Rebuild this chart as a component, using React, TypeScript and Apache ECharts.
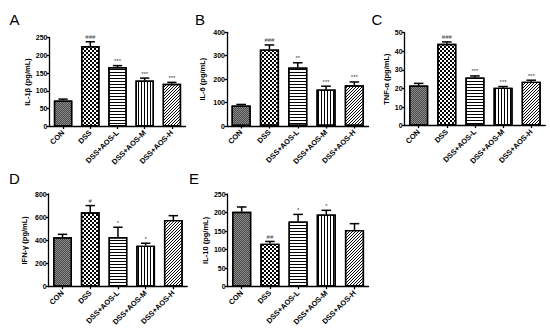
import React, { useEffect, useRef } from "react";
import * as echarts from "echarts";

const categories = ["CON", "DSS", "DSS+AOS-L", "DSS+AOS-M", "DSS+AOS-H"];

const il1bMean = [73, 226, 167, 129, 120];
const il1bErr = [4, 12, 4, 7, 4];
const il1bSig = ["", "###", "***", "***", "***"];

const il6Mean = [88, 327, 250, 156, 174];
const il6Err = [4, 19, 20, 14, 14];
const il6Sig = ["", "###", "**", "***", "***"];

const tnfMean = [21.5, 44, 25.8, 20.4, 23.6];
const tnfErr = [1.2, 1.0, 0.9, 0.6, 0.8];
const tnfSig = ["", "###", "***", "***", "***"];

const ifnMean = [426, 642, 429, 354, 576];
const ifnErr = [26, 58, 84, 21, 37];
const ifnSig = ["", "#", "*", "*", ""];

const il10Mean = [202, 116, 176, 195, 153];
const il10Err = [13, 6, 19, 11, 17];
const il10Sig = ["", "##", "*", "*", ""];

const panelLetters = ["A", "B", "C", "D", "E"];
const yTitles = ["IL-1β (pg/mL)", "IL-6 (pg/mL)", "TNF-α (pg/mL)", "IFN-γ (pg/mL)", "IL-10 (pg/mL)"];
const yMax = [250, 400, 50, 800, 250];
const yInterval = [50, 100, 10, 200, 50];

const means = [il1bMean, il6Mean, tnfMean, ifnMean, il10Mean];
const errs = [il1bErr, il6Err, tnfErr, ifnErr, il10Err];
const sigs = [il1bSig, il6Sig, tnfSig, ifnSig, il10Sig];

const layout = [
  { left: 49.5, top: 37.5, width: 136, height: 89, nameGap: 16.5, lx: 14.5, ly: 19.5 },
  { left: 227, top: 32.3, width: 141.5, height: 93.7, nameGap: 20.5, lx: 200, ly: 19.5 },
  { left: 404.6, top: 32.6, width: 140.7, height: 93, nameGap: 14, lx: 377, ly: 19.5 },
  { left: 48.7, top: 194, width: 138.5, height: 92.7, nameGap: 20, lx: 14.5, ly: 178.3 },
  { left: 227.6, top: 194, width: 141, height: 92.7, nameGap: 17.8, lx: 194, ly: 178.3 },
];

const FONT = '"Liberation Sans", Arial, sans-serif';

const baseDecal = { symbol: "rect", symbolSize: 1, symbolKeepAspect: false };
const barStyles = [
  { color: "#8a8a8a", decal: { ...baseDecal, color: "#4a4a4a", dashArrayX: [[1, 1], [0, 1, 1, 0]], dashArrayY: [1, 0] } },
  { color: "#ffffff", decal: { ...baseDecal, color: "#000000", dashArrayX: [[2, 2], [0, 2, 2, 0]], dashArrayY: [2, 0] } },
  { color: "#ffffff", decal: { ...baseDecal, color: "#000000", dashArrayX: [8, 0], dashArrayY: [1, 2] } },
  { color: "#ffffff", decal: { ...baseDecal, color: "#000000", dashArrayX: [1, 2], dashArrayY: [8, 0] } },
  {
    color: "#ffffff",
    decal: {
      ...baseDecal,
      color: "#000000",
      dashArrayX: [[0, 2, 1, 0], [0, 1, 1, 1], [1, 2]],
      dashArrayY: [1, 0],
    },
  },
];

export default function App() {
  const ref = useRef<HTMLDivElement>(null);

  useEffect(() => {
    if (!ref.current) return;
    const chart = echarts.init(ref.current, null, { renderer: "svg" });

    const grid = layout.map((l) => ({ left: l.left, top: l.top, width: l.width, height: l.height }));
    const axisLineStyle = { color: "#000", width: 1.3 };

    const xAxis = layout.map((_, i) => ({
      type: "category",
      gridIndex: i,
      data: categories,
      axisLine: { show: true, lineStyle: axisLineStyle },
      axisTick: { show: true, alignWithLabel: true, length: 2.5, lineStyle: axisLineStyle },
      axisLabel: {
        rotate: 45,
        interval: 0,
        margin: 5,
        fontSize: 7.5,
        fontWeight: "bold",
        fontFamily: FONT,
        color: "#000",
      },
      splitLine: { show: false },
    }));

    const yAxis = layout.map((l, i) => ({
      type: "value",
      gridIndex: i,
      min: 0,
      max: yMax[i],
      interval: yInterval[i],
      name: yTitles[i],
      nameLocation: "middle",
      nameGap: l.nameGap,
      nameTextStyle: { fontSize: 7.5, fontWeight: "bold", fontFamily: FONT, color: "#000" },
      axisLine: { show: true, lineStyle: axisLineStyle },
      axisTick: { show: true, length: 2.5, lineStyle: axisLineStyle },
      axisLabel: { fontSize: 7, fontWeight: "bold", fontFamily: FONT, color: "#000", margin: 2 },
      splitLine: { show: false },
    }));

    const series: any[] = [];
    layout.forEach((_, i) => {
      series.push({
        type: "bar",
        xAxisIndex: i,
        yAxisIndex: i,
        barWidth: "68%",
        data: means[i].map((v, j) => ({
          value: v,
          itemStyle: {
            color: barStyles[j].color,
            decal: barStyles[j].decal,
            borderColor: "#000",
            borderWidth: 1.4,
          },
        })),
        z: 2,
      });
      const sig = sigs[i];
      series.push({
        type: "custom",
        xAxisIndex: i,
        yAxisIndex: i,
        z: 5,
        data: means[i].map((v, j) => [j, v, errs[i][j]]),
        encode: { x: 0, y: 1 },
        renderItem: (params: any, api: any) => {
          const x = api.value(0);
          const m = api.value(1);
          const e = api.value(2);
          const base = api.coord([x, m]);
          const top = api.coord([x, m + e]);
          const bw = api.size([1, 0])[0];
          const half = bw * 0.17;
          const label = sig[params.dataIndex];
          const children: any[] = [
            {
              type: "line",
              shape: { x1: base[0], y1: base[1], x2: top[0], y2: top[1] },
              style: { stroke: "#000", lineWidth: 1.5 },
            },
            {
              type: "line",
              shape: { x1: top[0] - half, y1: top[1], x2: top[0] + half, y2: top[1] },
              style: { stroke: "#000", lineWidth: 1.5 },
            },
          ];
          if (label) {
            children.push({
              type: "text",
              x: top[0],
              y: top[1] - 1.5,
              style: {
                text: label,
                fill: "#444",
                fontSize: 6,
                fontFamily: FONT,
                align: "center",
                verticalAlign: "bottom",
              },
            });
          }
          return { type: "group", children };
        },
      });
    });

    const graphic = layout.map((l, i) => ({
      type: "text",
      x: l.lx,
      y: l.ly,
      style: {
        text: panelLetters[i],
        fontSize: 15,
        fontFamily: FONT,
        fill: "#000",
        align: "center",
        verticalAlign: "middle",
      },
    }));

    chart.setOption({
      animation: false,
      backgroundColor: "#ffffff",
      grid,
      xAxis,
      yAxis,
      series,
      graphic,
    } as any);

    return () => {
      chart.dispose();
    };
  }, []);

  return (
    <div
      ref={ref}
      style={{ position: "absolute", left: 0, top: 0, width: 550, height: 329, background: "#fff" }}
    />
  );
}
